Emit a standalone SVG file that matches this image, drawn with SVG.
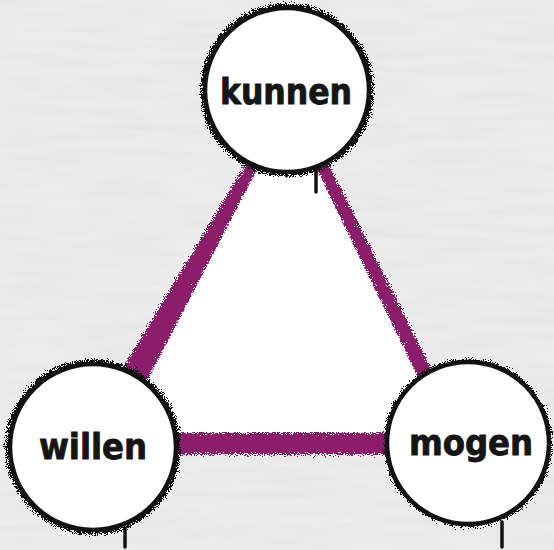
<svg xmlns="http://www.w3.org/2000/svg" width="554" height="550" viewBox="0 0 554 550">
  <defs>
    <filter id="bgtex" x="0" y="0" width="100%" height="100%" color-interpolation-filters="sRGB">
      <feTurbulence type="fractalNoise" baseFrequency="0.012 0.12" numOctaves="3" seed="4" result="n"/>
      <feColorMatrix in="n" type="matrix" values="0 0 0 0 0.6  0 0 0 0 0.6  0 0 0 0 0.6  0.1 0 0 0 -0.03"/>
    </filter>
    <filter id="sprayPurple" x="-15%" y="-15%" width="130%" height="130%" color-interpolation-filters="sRGB">
      <feTurbulence type="fractalNoise" baseFrequency="0.9" numOctaves="2" seed="7" result="n"/>
      <feColorMatrix in="n" type="matrix" values="0 0 0 0 0  0 0 0 0 0  0 0 0 0 0  1 0 0 0 0" result="na"/>
      <feGaussianBlur in="SourceAlpha" stdDeviation="4" result="b"/>
      <feComposite in="b" in2="na" operator="arithmetic" k1="0" k2="1" k3="1" k4="-0.55" result="c"/>
      <feComponentTransfer in="c" result="m"><feFuncA type="discrete" tableValues="0 1"/></feComponentTransfer>
      <feFlood flood-color="#8b1d6b"/>
      <feComposite in2="m" operator="in"/>
    </filter>
    <filter id="sprayBlack" x="-15%" y="-15%" width="130%" height="130%" color-interpolation-filters="sRGB">
      <feTurbulence type="fractalNoise" baseFrequency="0.95" numOctaves="2" seed="11" result="n"/>
      <feColorMatrix in="n" type="matrix" values="0 0 0 0 0  0 0 0 0 0  0 0 0 0 0  1 0 0 0 0" result="na"/>
      <feGaussianBlur in="SourceAlpha" stdDeviation="3.5" result="b"/>
      <feComposite in="b" in2="na" operator="arithmetic" k1="0" k2="1" k3="1" k4="-0.55" result="c"/>
      <feComponentTransfer in="c" result="m"><feFuncA type="discrete" tableValues="0 1"/></feComponentTransfer>
      <feFlood flood-color="#111111"/>
      <feComposite in2="m" operator="in"/>
    </filter>
  </defs>
  <style>
    .band { fill: #8b1d6b; }
    .halo { fill: none; stroke: #111; stroke-width: 7; }
    .ring { fill: #ffffff; stroke: #111111; stroke-width: 4.5; }
    .drip { stroke: #111111; stroke-width: 3.5; stroke-linecap: round; fill: none; }
    .label { font-family: "DejaVu Sans", "Liberation Sans", sans-serif; font-weight: bold; font-stretch: condensed; fill: #151515; text-anchor: middle; stroke: #151515; stroke-width: 0.8; }
  </style>

  <rect x="0" y="0" width="554" height="550" fill="#ececec"/>
  <rect x="0" y="0" width="554" height="550" filter="url(#bgtex)"/>

  <g id="connectors">
    <g filter="url(#sprayPurple)">
      <polygon class="band" points="291,88 70,455 121,432 288,111"/>
      <polygon class="band" points="70,455 475,455 444,432 121,432"/>
      <polygon class="band" points="291,88 288,111 444,432 475,455"/>
    </g>
    <polygon points="288,111 121,432 444,432" fill="#ffffff"/>
  </g>

  <g id="node-kunnen">
    <circle cx="287" cy="90" r="84" class="halo" filter="url(#sprayBlack)"/>
    <circle cx="287" cy="90" r="82" class="ring"/>
    <line x1="316" y1="170" x2="316" y2="192" class="drip"/>
    <text x="286" y="104" class="label" font-size="35">kunnen</text>
  </g>

  <g id="node-willen">
    <circle cx="93" cy="447" r="85" class="halo" filter="url(#sprayBlack)"/>
    <circle cx="93" cy="447" r="83" class="ring"/>
    <line x1="125" y1="528" x2="125" y2="547" class="drip"/>
    <text x="93" y="459" class="label" font-size="36">willen</text>
  </g>

  <g id="node-mogen">
    <circle cx="468" cy="443" r="82" class="halo" filter="url(#sprayBlack)" style="stroke-width:6"/>
    <circle cx="468" cy="443" r="81" class="ring"/>
    <line x1="502" y1="522" x2="502" y2="547" class="drip"/>
    <text x="471" y="455" class="label" font-size="36">mogen</text>
  </g>
</svg>
